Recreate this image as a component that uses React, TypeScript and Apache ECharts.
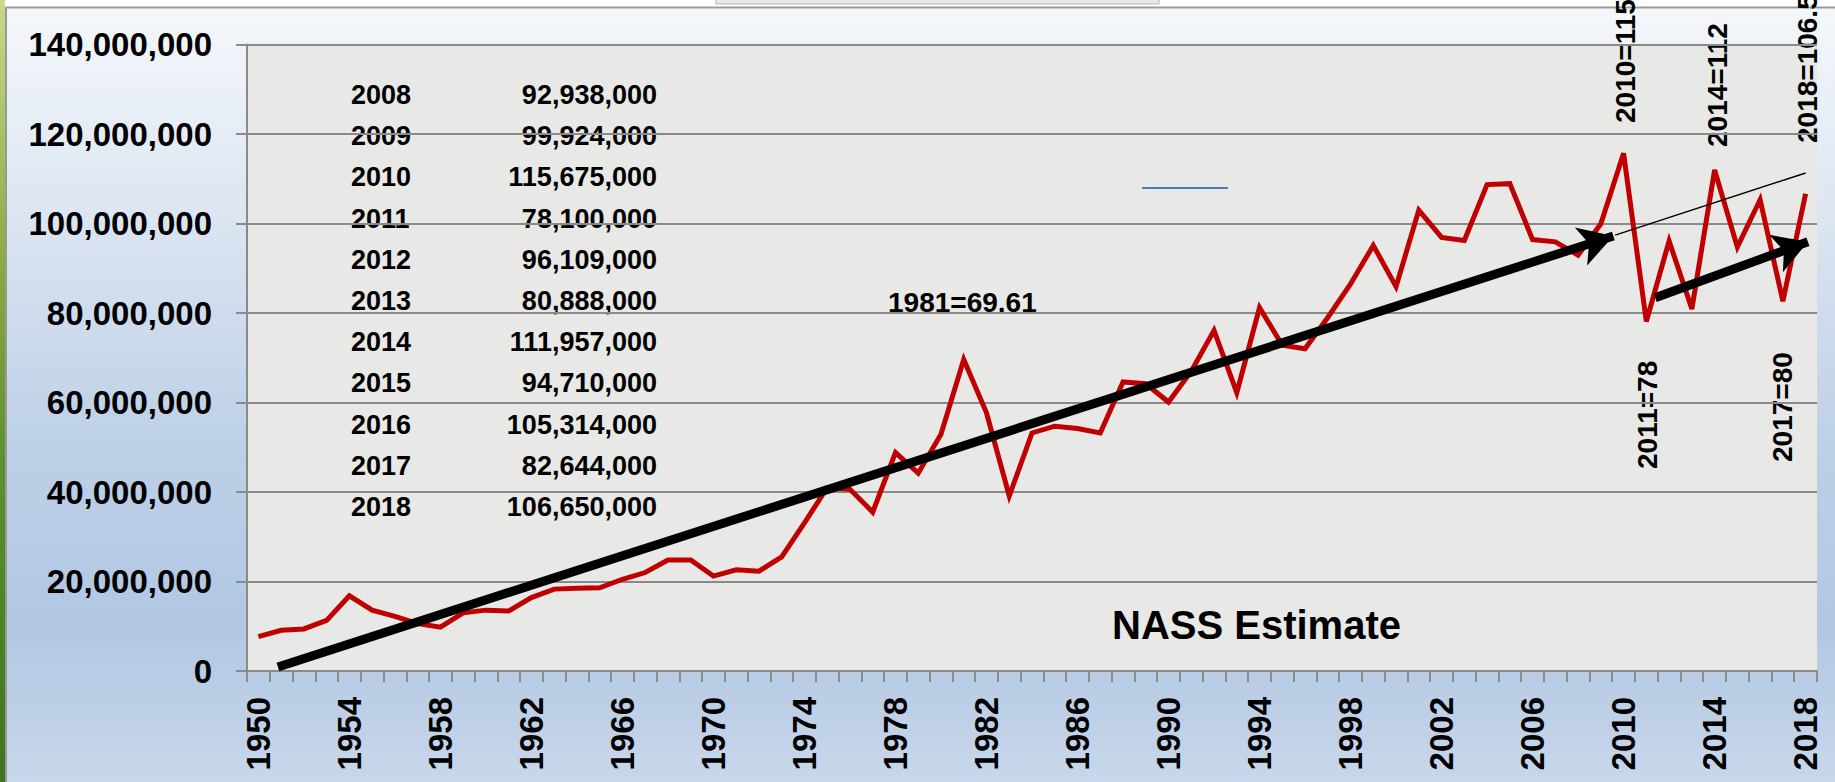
import React, { useEffect, useRef } from "react";
import * as echarts from "echarts";

const years: string[] = [
  "1950","1951","1952","1953","1954","1955","1956","1957","1958","1959",
  "1960","1961","1962","1963","1964","1965","1966","1967","1968","1969",
  "1970","1971","1972","1973","1974","1975","1976","1977","1978","1979",
  "1980","1981","1982","1983","1984","1985","1986","1987","1988","1989",
  "1990","1991","1992","1993","1994","1995","1996","1997","1998","1999",
  "2000","2001","2002","2003","2004","2005","2006","2007","2008","2009",
  "2010","2011","2012","2013","2014","2015","2016","2017","2018",
];

// NASS estimate, millions
const nassMillions: number[] = [
  7.7, 9.1, 9.4, 11.3, 16.8, 13.6, 12.2, 10.6, 9.8, 13.0,
  13.6, 13.4, 16.4, 18.3, 18.5, 18.6, 20.5, 22.0, 24.8, 24.8,
  21.2, 22.6, 22.3, 25.5, 33.1, 41.0, 40.6, 35.5, 48.8, 44.2,
  52.9, 69.61, 57.7, 39.1, 53.2, 54.7, 54.2, 53.2, 64.6, 64.2,
  60.1, 67.0, 76.1, 62.2, 81.2, 72.8, 72.0, 79.0, 86.5, 95.1,
  85.9, 103.0, 96.9, 96.2, 108.7, 108.9, 96.4, 95.9, 92.938, 99.924,
  115.675, 78.1, 96.109, 80.888, 111.957, 94.71, 105.314, 82.644, 106.65,
];

const tableYears: string[] = ["2008","2009","2010","2011","2012","2013","2014","2015","2016","2017","2018"];
const tableValues: number[] = [92938000, 99924000, 115675000, 78100000, 96109000, 80888000, 111957000, 94710000, 105314000, 82644000, 106650000];

// Trend arrows: [year, millions]
const longArrow: [number, number][] = [[1950.86, 0.9], [2009.55, 97.2]];
const thinExtension: [number, number][] = [[2009.63, 97.4], [2018.0, 111.3]];
const shortArrow: [number, number][] = [[2011.39, 83.4], [2018.1, 95.9]];

const yTicks = { min: 0, max: 140000000, interval: 20000000 };

const rotatedNotes: { text: string; x: number; y: number }[] = [
  { text: "2010=115", x: 1625, y: 123 },
  { text: "2014=112", x: 1717, y: 147 },
  { text: "2018=106.5", x: 1807, y: 143 },
  { text: "2011=78", x: 1647, y: 469 },
  { text: "2017=80", x: 1782, y: 462 },
];

const FONT = "'Liberation Sans', Arial, sans-serif";
const GRID_COLOR = "#8a8a8a";

function fmt(v: number): string {
  return v.toLocaleString("en-US");
}

export default function App() {
  const ref = useRef<HTMLDivElement>(null);

  useEffect(() => {
    if (!ref.current) return;
    const chart = echarts.init(ref.current, null, { renderer: "svg" });

    const graphics: any[] = [
      { type: "rect", shape: { x: 0, y: 0, width: 1835, height: 7 }, style: { fill: "#ffffff" }, silent: true },
      { type: "rect", shape: { x: 716, y: -2, width: 443, height: 6 }, style: { fill: "#e8e8e8", stroke: "#b5b5b5", lineWidth: 1 }, silent: true },
      { type: "line", shape: { x1: 6, y1: 7.5, x2: 1835, y2: 7.5 }, style: { stroke: "#999999", lineWidth: 2 }, silent: true },
      {
        type: "rect", shape: { x: 0, y: 0, width: 5, height: 782 }, silent: true,
        style: {
          fill: new echarts.graphic.LinearGradient(0, 0, 0, 1, [
            { offset: 0, color: "#c9d98a" },
            { offset: 0.3, color: "#8fb046" },
            { offset: 0.6, color: "#5d8f2c" },
            { offset: 1, color: "#3f7420" },
          ]),
        },
      },
      { type: "line", shape: { x1: 6, y1: 7, x2: 6, y2: 782 }, style: { stroke: "#999999", lineWidth: 2 }, silent: true },
      { type: "line", shape: { x1: 1142, y1: 188, x2: 1228, y2: 188 }, style: { stroke: "#4a7ebb", lineWidth: 2 }, silent: true },
    ];

    tableYears.forEach((y, i) => {
      const cy = 95 + i * 41.2;
      graphics.push({
        type: "text", x: 351, y: cy, silent: true,
        style: { text: y, font: `bold 27px ${FONT}`, fill: "#000", align: "left", verticalAlign: "middle" },
      });
      graphics.push({
        type: "text", x: 657, y: cy, silent: true,
        style: { text: fmt(tableValues[i]), font: `bold 27px ${FONT}`, fill: "#000", align: "right", verticalAlign: "middle" },
      });
    });

    graphics.push({
      type: "text", x: 888, y: 302, silent: true,
      style: { text: "1981=69.61", font: `bold 28px ${FONT}`, fill: "#000", align: "left", verticalAlign: "middle" },
    });
    graphics.push({
      type: "text", x: 1112, y: 625, silent: true,
      style: { text: "NASS Estimate", font: `bold 40px ${FONT}`, fill: "#000", align: "left", verticalAlign: "middle" },
    });
    rotatedNotes.forEach((n) => {
      graphics.push({
        type: "text", x: n.x, y: n.y, rotation: Math.PI / 2, silent: true,
        style: { text: n.text, font: `bold 28px ${FONT}`, fill: "#000", align: "left", verticalAlign: "middle" },
      });
    });

    const arrowSeries = (pts: [number, number][], width: number, arrow: boolean) => ({
      type: "line",
      xAxisIndex: 1,
      yAxisIndex: 0,
      data: [[pts[0][0], pts[0][1] * 1e6]],
      symbol: "none",
      showSymbol: false,
      lineStyle: { opacity: 0 },
      silent: true,
      z: 5,
      markLine: {
        silent: true,
        animation: false,
        symbol: arrow ? ["none", "arrow"] : ["none", "none"],
        symbolSize: [30, 34],
        label: { show: false },
        emphasis: { disabled: true },
        lineStyle: { color: "#000", width, type: "solid", opacity: 1, cap: "butt" },
        data: [
          [
            { coord: [pts[0][0], pts[0][1] * 1e6] },
            { coord: [pts[1][0], pts[1][1] * 1e6] },
          ],
        ],
      },
    });

    const option: any = {
      animation: false,
      backgroundColor: "transparent",
      grid: {
        left: 247, right: 18, top: 44.5, bottom: 111,
        show: true, backgroundColor: "#e8e8e6", borderWidth: 0,
      },
      xAxis: [
        {
          type: "category",
          data: years,
          boundaryGap: true,
          axisLine: { show: true, lineStyle: { color: GRID_COLOR, width: 2 } },
          axisTick: { show: true, interval: 0, length: 11, lineStyle: { color: GRID_COLOR, width: 2 } },
          axisLabel: {
            interval: 3, rotate: 90, margin: 26,
            fontFamily: FONT, fontWeight: "bold", fontSize: 33, color: "#000",
          },
          splitLine: { show: false },
        },
        { type: "value", min: 1949.5, max: 2018.5, show: false },
      ],
      yAxis: {
        type: "value",
        min: yTicks.min, max: yTicks.max, interval: yTicks.interval,
        axisLine: { show: true, lineStyle: { color: GRID_COLOR, width: 2 } },
        axisTick: { show: true, length: 11, lineStyle: { color: GRID_COLOR, width: 2 } },
        splitLine: { show: true, lineStyle: { color: GRID_COLOR, width: 2 } },
        axisLabel: {
          margin: 35, formatter: (v: number) => fmt(v),
          fontFamily: FONT, fontWeight: "bold", fontSize: 33, color: "#000",
        },
      },
      series: [
        {
          name: "NASS Estimate",
          type: "line",
          data: nassMillions.map((v) => Math.round(v * 1e6)),
          symbol: "none",
          showSymbol: false,
          lineStyle: { color: "#c00000", width: 5, join: "miter" },
          itemStyle: { color: "#c00000" },
          z: 3,
          silent: true,
        },
        arrowSeries(longArrow, 9, true),
        arrowSeries(thinExtension, 1.5, false),
        arrowSeries(shortArrow, 9, true),
      ],
      graphic: graphics,
    };

    chart.setOption(option);
    return () => chart.dispose();
  }, []);

  return (
    <div
      ref={ref}
      style={{
        position: "fixed", left: 0, top: 0, width: 1835, height: 782,
        background: "linear-gradient(to bottom, #f5f8fc 0%, #dfe7f2 25%, #bfd1e8 55%, #b1c7e2 80%, #c8d7eb 100%)",
      }}
    />
  );
}
